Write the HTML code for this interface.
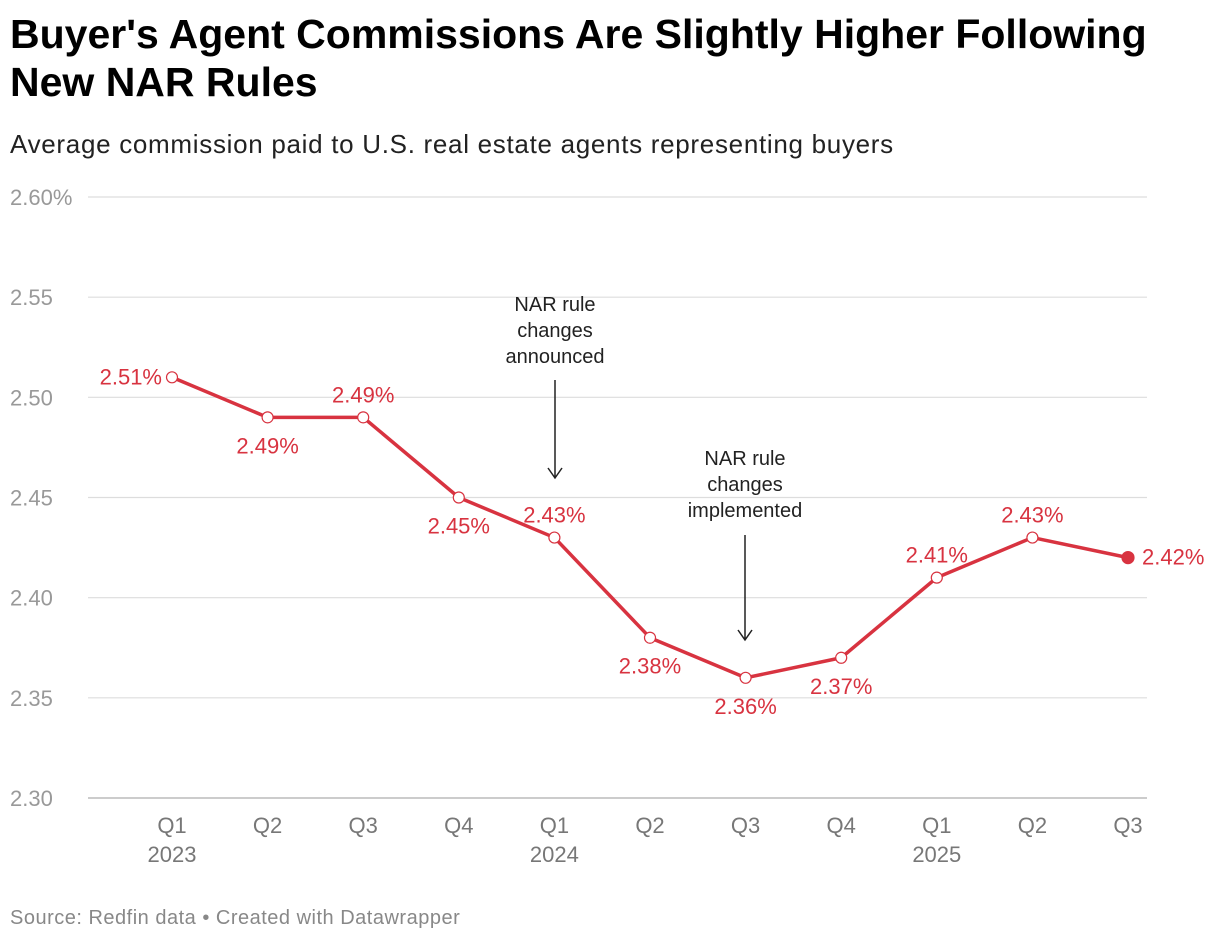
<!DOCTYPE html>
<html><head><meta charset="utf-8"><style>
body{margin:0;background:#fff;font-family:"Liberation Sans",Arial,sans-serif;}
#wrap{position:relative;width:1220px;height:944px;overflow:hidden}
h1{position:absolute;left:10px;top:10px;margin:0;font-size:41px;line-height:48px;font-weight:bold;color:#000;letter-spacing:0px;white-space:nowrap}
.sub{position:absolute;left:10px;top:129px;font-size:26px;color:#222;letter-spacing:0.7px;white-space:nowrap}
.src{position:absolute;left:10px;top:907px;font-size:20px;color:#888;letter-spacing:0.5px;white-space:nowrap}
</style></head><body>
<div id="wrap">
<h1>Buyer's Agent Commissions Are Slightly Higher Following<br>New NAR Rules</h1>
<div class="sub">Average commission paid to U.S. real estate agents representing buyers</div>
<svg id="chart" width="1220" height="944" style="position:absolute;left:0;top:0"></svg>
<div class="src">Source: Redfin data • Created with Datawrapper</div>
</div>
<script>
const categories=["Q1","Q2","Q3","Q4","Q1","Q2","Q3","Q4","Q1","Q2","Q3"];
const years=["2023","","","","2024","","","","2025","",""];
const values=[2.51,2.49,2.49,2.45,2.43,2.38,2.36,2.37,2.41,2.43,2.42];
const labelPos=["left","below","above","below","above","below","below","below","above","above","right"];
const yTicks=[2.30,2.35,2.40,2.45,2.50,2.55,2.60];
const yTickLabels=["2.30","2.35","2.40","2.45","2.50","2.55","2.60%"];
const svg=document.getElementById('chart');
const NS='http://www.w3.org/2000/svg';
const yMin=2.30,yMax=2.60,yTop=197,yBot=798;
const x0=172,x1=1128;
const y=v=>yBot-(v-yMin)/(yMax-yMin)*(yBot-yTop);
const x=i=>x0+i*(x1-x0)/(categories.length-1);
function mk(t,a,txt){const e=document.createElementNS(NS,t);for(const k in a)e.setAttribute(k,a[k]);if(txt!==undefined)e.textContent=txt;svg.appendChild(e);return e;}
const red="#d83340";
yTicks.forEach((v,i)=>{
 const g=mk('line',{x1:88,x2:1147,y1:y(v),y2:y(v),stroke:i==0?'#bbb':'#ddd','stroke-width':i==0?1.5:1.2});
 
 
 const t=mk('text',{x:10,y:y(v)+8,'font-size':22,fill:'#999'},yTickLabels[i]);
 
 
});
categories.forEach((c,i)=>{
 const t=mk('text',{x:x(i),y:833,'font-size':22,fill:'#777','text-anchor':'middle'},c);
 
 
 if(years[i]){const yt=mk('text',{x:x(i),y:862,'font-size':22,fill:'#777','text-anchor':'middle'},years[i]);
 
 }
});
function ann(cx,lines,ly,a0,a1){
 lines.forEach((l,k)=>{const t=mk('text',{x:cx,y:ly+k*26,'font-size':20,fill:'#222','text-anchor':'middle'},l);
 
 });
 const a=mk('path',{d:`M${cx} ${a0}V${a1}M${cx-7} ${a1-10}L${cx} ${a1}L${cx+7} ${a1-10}`,stroke:'#222','stroke-width':1.5,fill:'none'});
 
 
}
ann(555,["NAR rule","changes","announced"],311,380,478);
ann(745,["NAR rule","changes","implemented"],465,535,640);
const line=mk('polyline',{points:values.map((v,i)=>x(i)+','+y(v)).join(' '),fill:'none',stroke:red,'stroke-width':3.5,'stroke-linejoin':'round'});


values.forEach((v,i)=>{
 const last=i==values.length-1;
 const p=mk('circle',{cx:x(i),cy:y(v),r:last?6:5.5,fill:last?red:'#fff',stroke:red,'stroke-width':1.2});
 
 
 let lx=x(i),ly=y(v),anc='middle';
 const pos=labelPos[i];
 if(pos=='above')ly-=15;else if(pos=='below')ly+=36;else if(pos=='left'){lx-=10;ly+=7;anc='end';}else{lx+=14;ly+=7;anc='start';}
 const t=mk('text',{x:lx,y:ly,'font-size':22,fill:red,'text-anchor':anc},v.toFixed(2)+'%');
 
 
});
</script>
</body></html>
